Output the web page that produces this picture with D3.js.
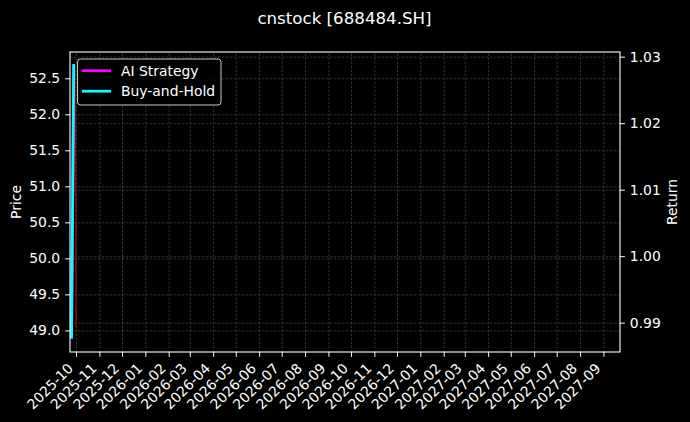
<!DOCTYPE html>
<html>
<head>
<meta charset="utf-8">
<script src="https://cdn.jsdelivr.net/npm/d3@7"></script>
<style>
  body { margin: 0; background: #000; }
  svg { display: block; }
  text { font-family: "DejaVu Sans", sans-serif; fill: #fff; }
  .axis path, .axis line { stroke: #fff; }
  .axis text { font-size: 13.9px; }
  .grid line { stroke: #777; stroke-opacity: 0.6; stroke-width: 0.7; stroke-dasharray: 2.5 1.5; }
  .grid path { stroke-width: 0; }
</style>
</head>
<body>
<svg id="chart"></svg>
<script>
// data
const stratDates = ["2025-09-25", "2025-09-28"];
const aiStrategy = [0.9876, 1.0289];
const buyHold = [0.9876, 1.0289];
const priceDates = ["2025-10-01", "2025-09-30"];
const price = [49.05, 52.6];
const priceTicks = [49.0, 49.5, 50.0, 50.5, 51.0, 51.5, 52.0, 52.5];
const returnTicks = [0.99, 1.0, 1.01, 1.02, 1.03];
const monthTicks = ["2025-10", "2025-11", "2025-12", "2026-01", "2026-02", "2026-03",
  "2026-04", "2026-05", "2026-06", "2026-07", "2026-08", "2026-09", "2026-10",
  "2026-11", "2026-12", "2027-01", "2027-02", "2027-03", "2027-04", "2027-05",
  "2027-06", "2027-07", "2027-08", "2027-09"];

const W = 690, H = 422;
const pLeft = 70, pRight = 620, pTop = 52, pBottom = 352;
const parse = d3.utcParse("%Y-%m-%d");
const parseMonth = d3.utcParse("%Y-%m");

const svg = d3.select("#chart").attr("width", W).attr("height", H);
svg.append("rect").attr("width", W).attr("height", H).attr("fill", "#000");

const x = d3.scaleUtc()
  .domain([parse("2025-09-23"), parse("2027-09-23")])
  .range([pLeft, pRight]);
const yPrice = d3.scaleLinear().domain([48.70, 52.865]).range([pBottom, pTop]);
const yRet = d3.scaleLinear().domain([0.98559, 1.0307]).range([pBottom, pTop]);

const months = monthTicks.map(parseMonth);

// grids
svg.append("g").attr("class", "grid")
  .attr("transform", `translate(0,${pBottom})`)
  .call(d3.axisBottom(x).tickValues(months).tickSize(-(pBottom - pTop)).tickFormat(""));
svg.append("g").attr("class", "grid")
  .attr("transform", `translate(${pLeft},0)`)
  .call(d3.axisLeft(yPrice).tickValues(priceTicks).tickSize(-(pRight - pLeft)).tickFormat(""));
svg.append("g").attr("class", "grid")
  .attr("transform", `translate(${pLeft},0)`)
  .call(d3.axisLeft(yRet).tickValues(returnTicks).tickSize(-(pRight - pLeft)).tickFormat(""));

// lines
const priceLine = d3.line().x((d, i) => x(parse(priceDates[i]))).y(d => yPrice(d));
const retLine = d3.line().x((d, i) => x(parse(stratDates[i]))).y(d => yRet(d));

svg.append("path").datum(price).attr("d", priceLine)
  .attr("fill", "none").attr("stroke", "#9a0000").attr("stroke-width", 1.4);
svg.append("path").datum(aiStrategy).attr("d", retLine)
  .attr("fill", "none").attr("stroke", "#ff00ff").attr("stroke-width", 2.8);
svg.append("path").datum(buyHold).attr("d", retLine)
  .attr("fill", "none").attr("stroke", "#00ffff").attr("stroke-width", 2.8);

// frame
svg.append("rect").attr("x", pLeft).attr("y", pTop)
  .attr("width", pRight - pLeft).attr("height", pBottom - pTop)
  .attr("fill", "none").attr("stroke", "#fff").attr("stroke-width", 1.1);

// axes
const ax = svg.append("g").attr("class", "axis")
  .attr("transform", `translate(0,${pBottom})`)
  .call(d3.axisBottom(x).tickValues(months).tickSize(4.9).tickFormat(""));
ax.select(".domain").remove();
svg.selectAll(".xlab").data(months).enter().append("text")
  .attr("class", "xlab")
  .attr("font-size", "13.9px")
  .attr("text-anchor", "end")
  .attr("transform", d => `translate(${x(d) - 2},${pBottom + 9.8 + 7.4}) rotate(-45)`)
  .text(d3.utcFormat("%Y-%m"));

const ayl = svg.append("g").attr("class", "axis")
  .attr("transform", `translate(${pLeft},0)`)
  .call(d3.axisLeft(yPrice).tickValues(priceTicks).tickSize(4.9).tickPadding(4.9).tickFormat(d3.format(".1f")));
ayl.select(".domain").remove();

const ayr = svg.append("g").attr("class", "axis")
  .attr("transform", `translate(${pRight},0)`)
  .call(d3.axisRight(yRet).tickValues(returnTicks).tickSize(4.9).tickPadding(4.9).tickFormat(d3.format(".2f")));
ayr.select(".domain").remove();
svg.selectAll(".axis text").attr("fill", "#fff");

// labels
svg.append("text").attr("x", W / 2 - 0.5).attr("y", 24)
  .attr("text-anchor", "middle").attr("font-size", "16.67px")
  .text("cnstock [688484.SH]");
svg.append("text").attr("transform", `translate(21,${(pTop + pBottom) / 2}) rotate(-90)`)
  .attr("text-anchor", "middle").attr("font-size", "13.9px").text("Price");
svg.append("text").attr("transform", `translate(677,${(pTop + pBottom) / 2}) rotate(-90)`)
  .attr("text-anchor", "middle").attr("font-size", "13.9px").text("Return");

// legend
const legendNames = ["AI Strategy", "Buy-and-Hold"];
const legendColors = ["#ff00ff", "#00ffff"];
const lg = svg.append("g");
lg.append("rect").attr("x", 77.5).attr("y", 59).attr("width", 143.5).attr("height", 46)
  .attr("rx", 3).attr("fill", "#000").attr("fill-opacity", 0.8)
  .attr("stroke", "#ccc").attr("stroke-width", 1);
legendNames.forEach((n, i) => {
  const yy = 70.7 + i * 20.5;
  lg.append("line").attr("x1", 82).attr("x2", 111).attr("y1", yy).attr("y2", yy)
    .attr("stroke", legendColors[i]).attr("stroke-width", 2.8);
  lg.append("text").attr("x", 121).attr("y", yy + 5).attr("font-size", "13.9px").text(n);
});
</script>
</body>
</html>
